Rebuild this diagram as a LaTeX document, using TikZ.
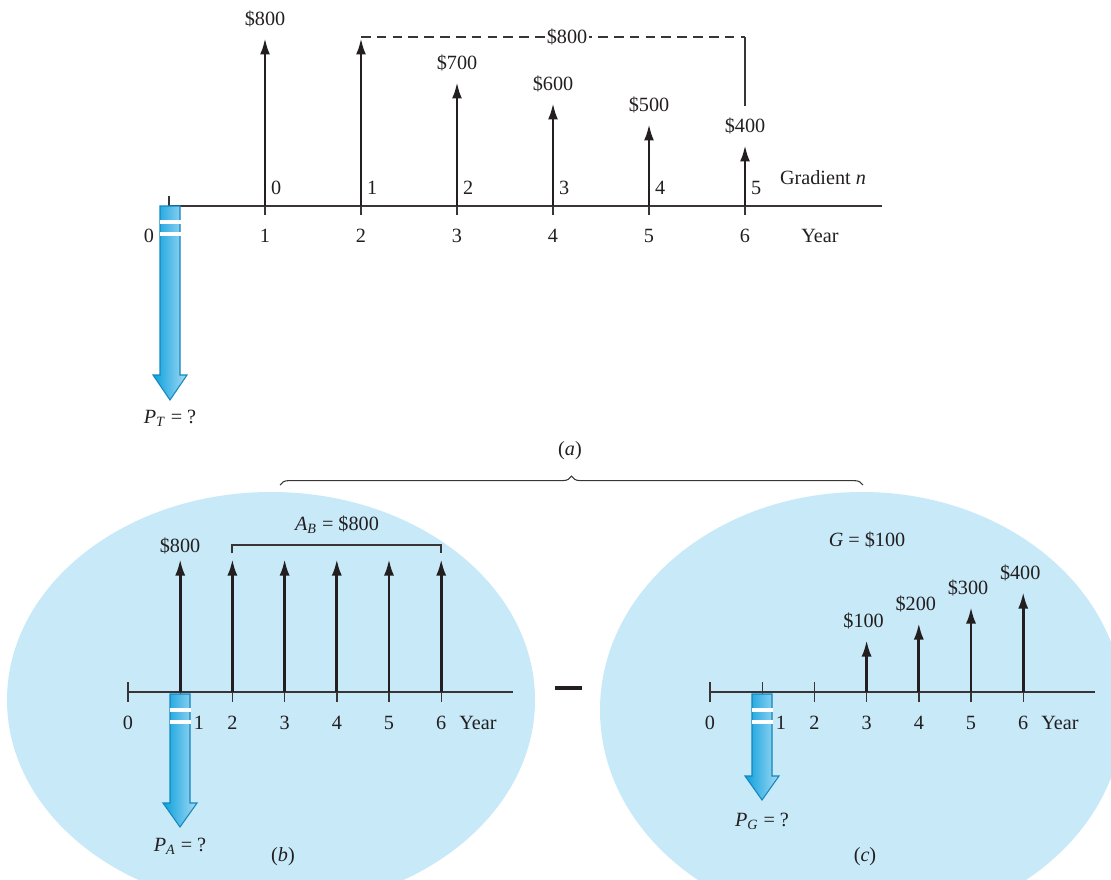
\documentclass[tikz,border=0pt]{standalone}
\usepackage{fontspec}
\setmainfont{Liberation Serif}
\usetikzlibrary{arrows.meta,decorations.pathreplacing}

\definecolor{ovalblue}{RGB}{199,233,248}
\definecolor{pvdark}{RGB}{10,160,220}
\definecolor{pvlight}{RGB}{165,218,244}
\definecolor{pvedge}{RGB}{20,135,190}
\definecolor{ink}{RGB}{35,31,32}

\begin{document}
\begin{tikzpicture}[x=0.02cm, y=-0.02cm,
    >={Latex[length=3.3mm,width=2mm]},
    font=\fontsize{11.5}{13}\selectfont, text=ink,
    axisline/.style={line width=0.8pt, ink!90},
    flow/.style={->, line width=1.6pt, ink},
    thinline/.style={line width=0.6pt, ink!90},
    pvarrow/.style={draw=pvedge, line width=0.6pt, left color=pvdark, right color=pvlight}]
  \useasboundingbox (0,0) rectangle (1111,879);

  % ovals behind (b) and (c)
  \begin{scope}
    \clip (0,0) rectangle (1111,879);
    \fill[ovalblue] (271,700) ellipse (264 and 208);
    \fill[ovalblue] (862,710) ellipse (262 and 218);
  \end{scope}

  % (a) total cash flow
  \coordinate (a0) at (169,206);
  \coordinate (aend) at (882,206);
  \draw[axisline] (a0) -- (aend);
  \draw[axisline] (169,196) -- (169,206);
  \node (ya0) at (149,236) {0};
  \foreach \i/\yt/\lab in {1/38/800, 2/38/, 3/82/700, 4/103/600, 5/124/500, 6/145/400} {
    \coordinate (a\i) at (169+96*\i,206);
    \coordinate (ta\i) at (169+96*\i,\yt);
    \draw[axisline] (169+96*\i,197) -- (169+96*\i,215);
    \draw[flow] (a\i) -- (ta\i);
    \node (ya\i) at (169+96*\i,236) {\i};
    \ifx\lab\empty\else
      \node (va\i) at (169+96*\i,\yt-19) {\$\lab};
    \fi
  }
  \foreach \n [count=\i] in {0,...,5} {
    \node[anchor=west, inner sep=1pt] (ga\n) at (173+96*\i,188) {\n};
  }
  \node (gradn) at (823,178) {Gradient \textit{n}};
  \node (yeara) at (820,236) {Year};

  % dashed $800 span
  \coordinate (dtop) at (745,37);
  \coordinate (dend) at (745,106);
  \draw[thinline, dash pattern=on 5.5pt off 3.5pt] (361,37) -- (dtop);
  \draw[thinline] (dtop) -- (dend);
  \node[fill=white, inner sep=1pt] (spana) at (567,37) {\$800};

  % (b) uniform series
  \coordinate (b0) at (128,692);
  \coordinate (bend) at (513,692);
  \draw[axisline] (b0) -- (bend);
  \draw[axisline] (128,682) -- (128,702);
  \node (yb0) at (128,723) {0};
  \foreach \i in {1,...,6} {
    \coordinate (b\i) at (128+52.2*\i,692);
    \coordinate (tb\i) at (128+52.2*\i,559);
    \draw[axisline] (128+52.2*\i,682) -- (128+52.2*\i,702);
    \draw[flow] (b\i) -- (tb\i);
  }
  \node (yb1) at (199,723) {1};
  \foreach \i in {2,...,6} {
    \node (yb\i) at (128+52.2*\i,723) {\i};
  }
  \node (yearb) at (478,723) {Year};
  \node (vb1) at (180,546) {\$800};
  \draw[thinline] (232,553) -- (232,545) -- (441,545) -- (441,553);
  \node (ab) at (337,525) {\textit{A}\textsubscript{\textit{B}} = \$800};

  % minus sign
  \fill[ink] (555,686) rectangle (582,690);

  % (c) gradient series
  \coordinate (c0) at (710,692);
  \coordinate (cend) at (1095,692);
  \draw[axisline] (c0) -- (cend);
  \node (yc0) at (710,723) {0};
  \foreach \i in {0,...,6} {
    \coordinate (c\i) at (710+52.2*\i,692);
    \draw[axisline] (710+52.2*\i,682) -- (710+52.2*\i,702);
  }
  \foreach \i/\yt/\lab in {3/640/100, 4/623/200, 5/607/300, 6/592/400} {
    \coordinate (tc\i) at (710+52.2*\i,\yt);
    \draw[flow] (c\i) -- (tc\i);
    \node (vc\i) at (707+52.2*\i,\yt-19) {\$\lab};
  }
  \node (yc1) at (781,723) {1};
  \foreach \i in {2,...,6} {
    \node (yc\i) at (710+52.2*\i,723) {\i};
  }
  \node (yearc) at (1060,723) {Year};
  \node (gc) at (867,540) {\textit{G} = \$100};

  % present worth arrows
  \foreach \cx/\yt/\yh/\yp in {170/206/375/400, 180/694/803/827, 762/694/776/800} {
    \draw[pvarrow] (\cx-10,\yt) -- (\cx-10,\yh) -- (\cx-17,\yh) -- (\cx,\yp)
      -- (\cx+17,\yh) -- (\cx+10,\yh) -- (\cx+10,\yt) -- cycle;
    \fill[white] (\cx-10.5,\yt+13.5) rectangle (\cx+10.5,\yt+17.5);
    \fill[white] (\cx-10.5,\yt+25.5) rectangle (\cx+10.5,\yt+29.5);
  }
  \node (pt) at (170,418) {\textit{P}\textsubscript{\textit{T}} = ?};
  \node (pa) at (180,846) {\textit{P}\textsubscript{\textit{A}} = ?};
  \node (pg) at (762,821) {\textit{P}\textsubscript{\textit{G}} = ?};

  % captions and brace
  \node (capa) at (570,451) {(\textit{a})};
  \node (capb) at (283,857) {(\textit{b})};
  \node (capc) at (865,857) {(\textit{c})};
  \coordinate (brl) at (280,485);
  \coordinate (brr) at (863,485);
  \draw[thinline, decorate, decoration={brace, amplitude=5pt}] (brl) -- (brr);
\end{tikzpicture}
\end{document}
